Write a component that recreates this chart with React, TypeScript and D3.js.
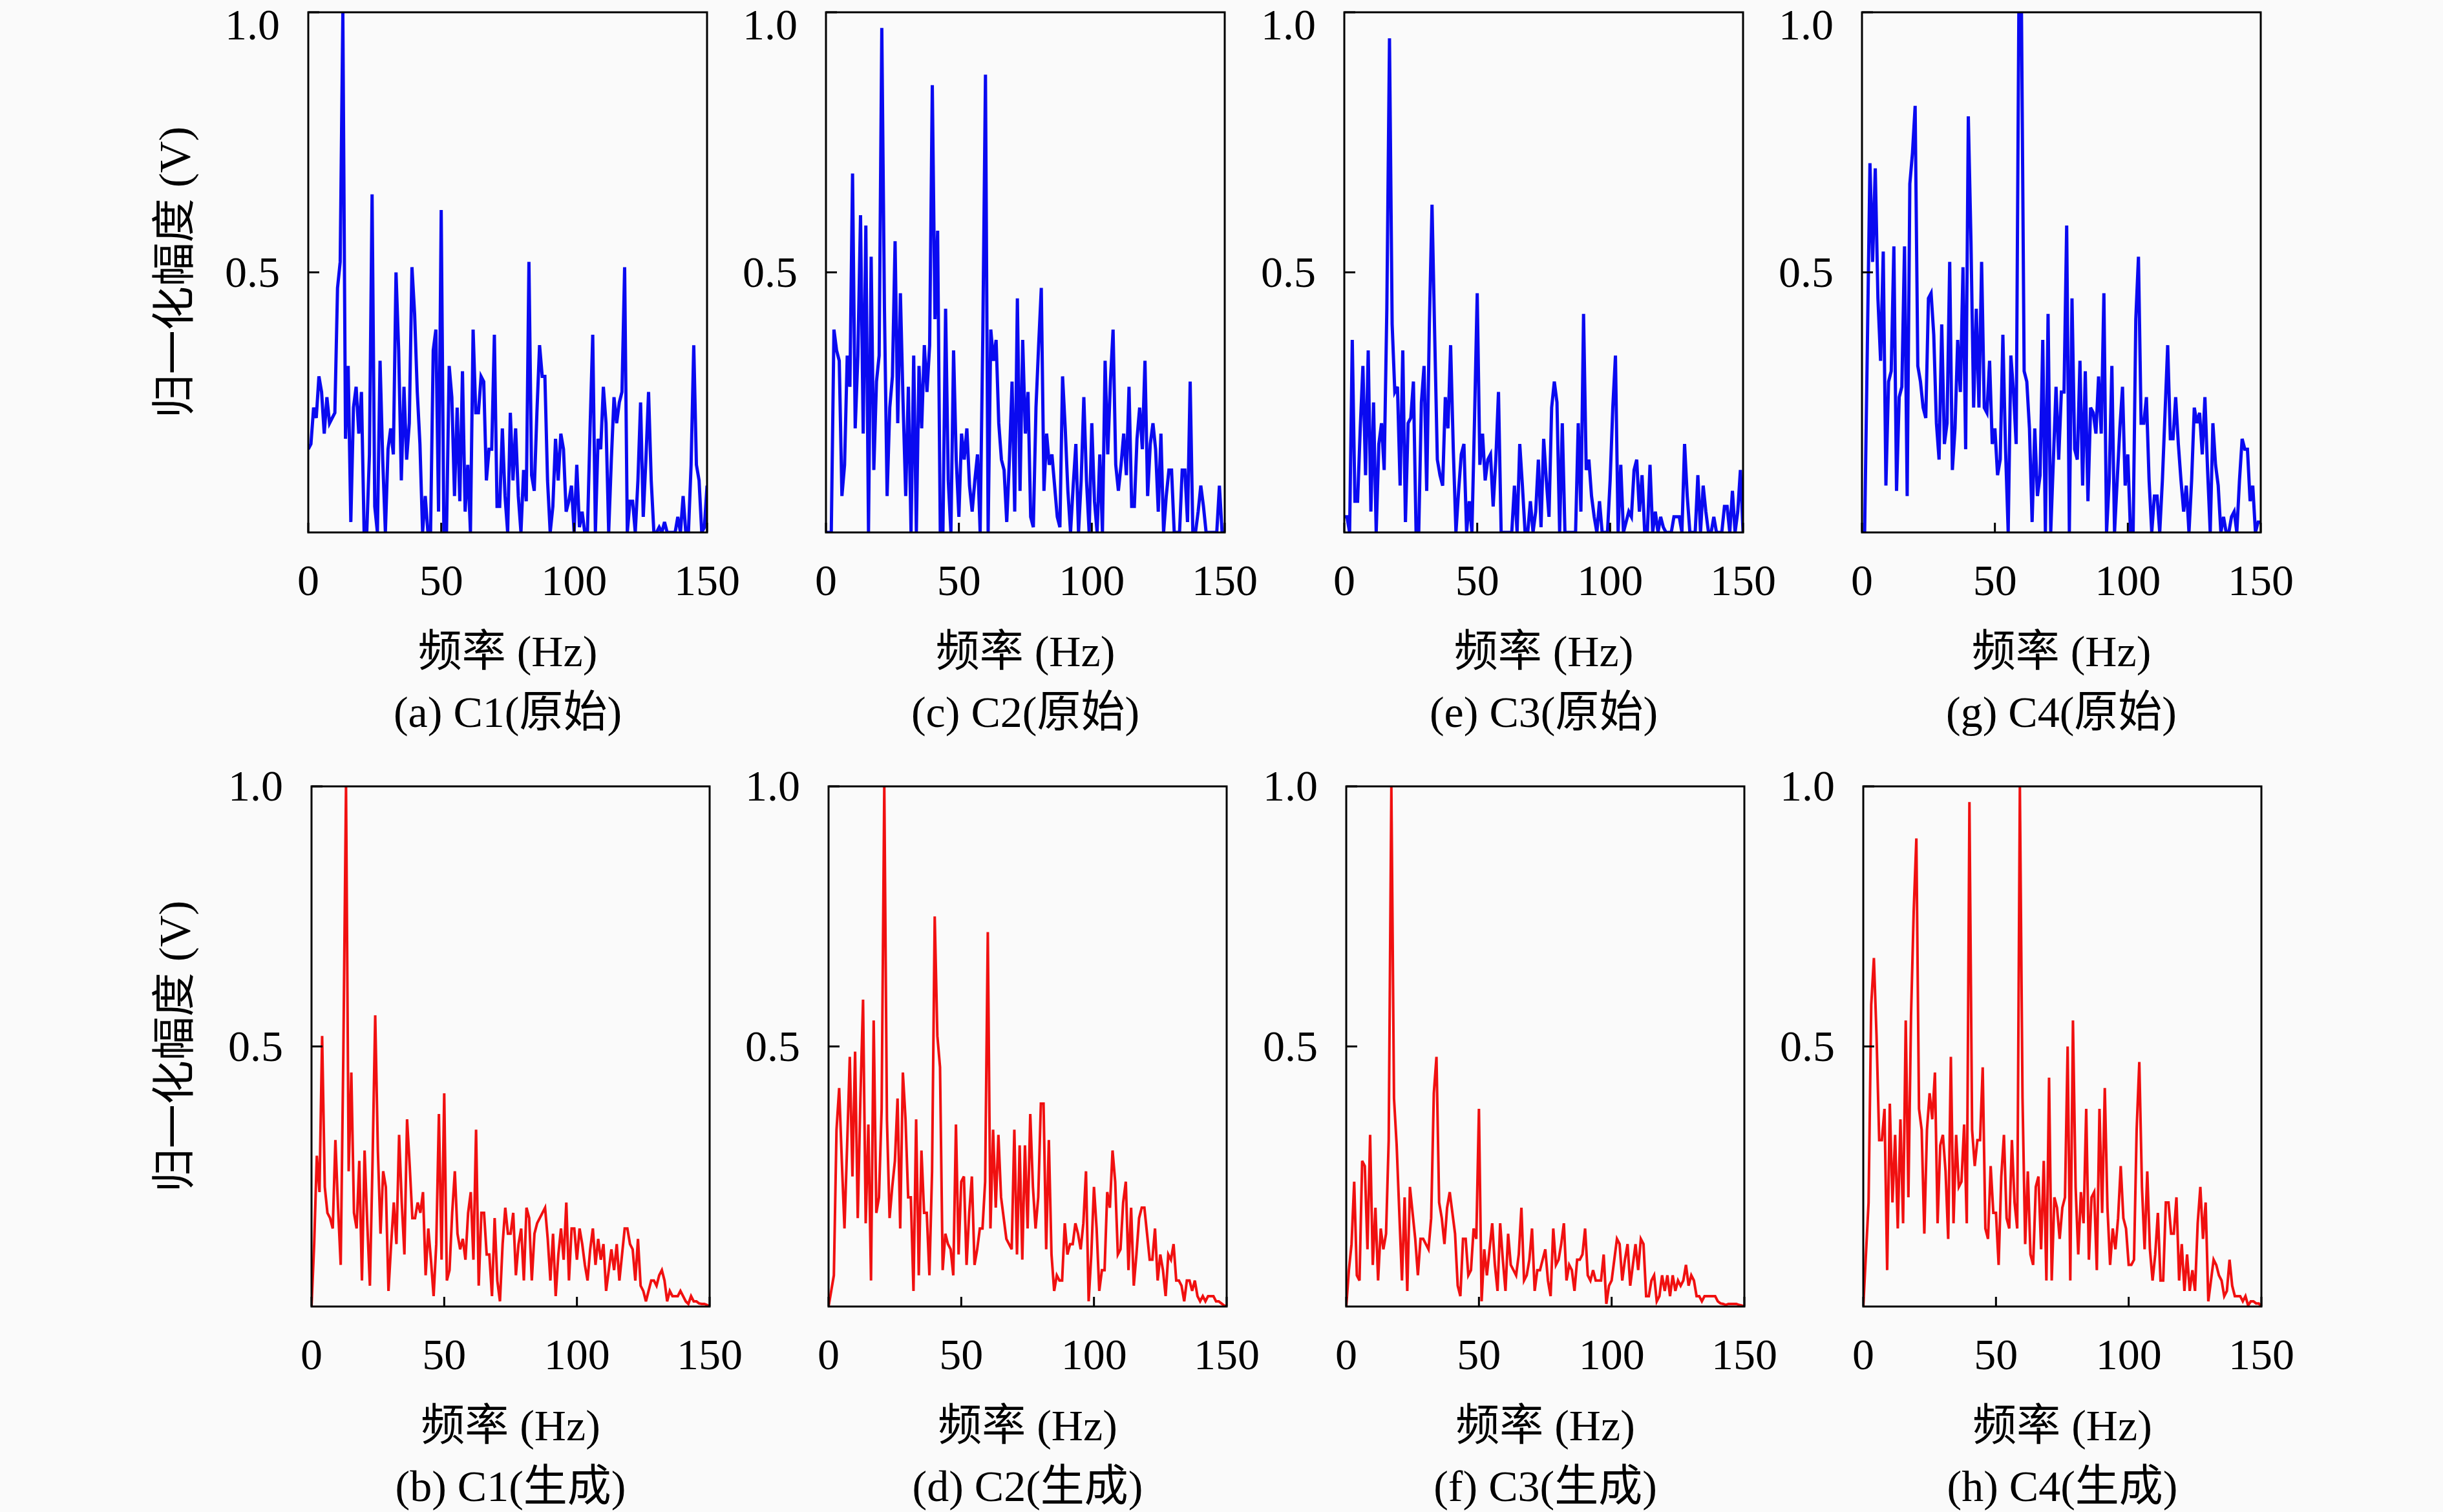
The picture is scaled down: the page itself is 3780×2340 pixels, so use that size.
import React, { useEffect } from 'react';
import * as d3 from 'd3';

// normalised spectra, one value per Hz, 0..150 Hz
const c1Raw = [
  0.16, 0.17, 0.24, 0.22, 0.3, 0.27, 0.19, 0.26, 0.21, 0.22,
  0.23, 0.47, 0.52, 1.0, 0.18, 0.32, 0.02, 0.24, 0.28, 0.19,
  0.27, 0, 0, 0.15, 0.65, 0.05, 0, 0.33, 0.14, 0,
  0.16, 0.2, 0.15, 0.5, 0.35, 0.1, 0.28, 0.14, 0.21, 0.51,
  0.42, 0.27, 0.17, 0, 0.07, 0, 0, 0.35, 0.39, 0.04,
  0.62, 0, 0, 0.32, 0.26, 0.07, 0.24, 0.06, 0.31, 0.04,
  0.13, 0, 0.39, 0.23, 0.23, 0.3, 0.29, 0.1, 0.16, 0.16,
  0.38, 0.05, 0.05, 0.2, 0.07, 0, 0.23, 0.1, 0.2, 0.07,
  0, 0.12, 0.06, 0.52, 0.11, 0.08, 0.23, 0.36, 0.3, 0.3,
  0.1, 0, 0.05, 0.18, 0.1, 0.19, 0.16, 0.04, 0.06, 0.09,
  0, 0.13, 0.01, 0.04, 0, 0, 0.2, 0.38, 0, 0.18,
  0.16, 0.28, 0.21, 0, 0.14, 0.26, 0.21, 0.25, 0.27, 0.51,
  0, 0.06, 0.06, 0, 0.1, 0.25, 0.03, 0.14, 0.27, 0.1,
  0, 0, 0.01, 0, 0.02, 0, 0, 0, 0, 0.03,
  0, 0.07, 0, 0, 0.13, 0.36, 0.13, 0.1, 0, 0.01,
  0.09,
];

const c2Raw = [
  0, 0, 0, 0.39, 0.35, 0.33, 0.07, 0.13, 0.34, 0.28,
  0.69, 0.2, 0.34, 0.61, 0.19, 0.59, 0, 0.53, 0.12, 0.29,
  0.34, 0.97, 0.43, 0.07, 0.24, 0.3, 0.56, 0.21, 0.46, 0.25,
  0.07, 0.28, 0, 0.34, 0, 0.32, 0.2, 0.36, 0.27, 0.36,
  0.86, 0.41, 0.58, 0, 0, 0.43, 0.1, 0, 0.35, 0.14,
  0.03, 0.19, 0.14, 0.2, 0.09, 0.04, 0.1, 0.15, 0, 0.38,
  0.88, 0, 0.39, 0.33, 0.37, 0.21, 0.14, 0.12, 0.02, 0.14,
  0.29, 0.04, 0.45, 0.08, 0.37, 0.19, 0.27, 0.03, 0.01, 0.24,
  0.36, 0.47, 0.08, 0.19, 0.13, 0.15, 0.09, 0.03, 0.01, 0.3,
  0.2, 0.08, 0, 0.09, 0.17, 0, 0.1, 0.26, 0.1, 0,
  0.21, 0.06, 0, 0.15, 0, 0.33, 0.15, 0.29, 0.39, 0.13,
  0.08, 0.13, 0.19, 0.11, 0.28, 0.05, 0.05, 0.18, 0.24, 0.16,
  0.33, 0.07, 0.17, 0.21, 0.16, 0.04, 0.19, 0, 0.07, 0.12,
  0.12, 0, 0, 0, 0.12, 0.12, 0.02, 0.29, 0, 0,
  0.04, 0.09, 0.05, 0, 0, 0, 0, 0, 0.09, 0,
  0,
];

const c3Raw = [
  0.03, 0.03, 0, 0.37, 0.06, 0.06, 0.2, 0.32, 0.11, 0.35,
  0.04, 0.25, 0, 0.17, 0.21, 0.12, 0.43, 0.95, 0.4, 0.27,
  0.28, 0.09, 0.35, 0.02, 0.21, 0.22, 0.29, 0, 0, 0.25,
  0.32, 0.08, 0.4, 0.63, 0.38, 0.14, 0.11, 0.09, 0.26, 0.2,
  0.36, 0.16, 0, 0.08, 0.15, 0.17, 0, 0.06, 0, 0.22,
  0.46, 0.13, 0.19, 0.1, 0.14, 0.15, 0.05, 0.14, 0.27, 0,
  0, 0, 0, 0, 0.09, 0, 0.17, 0.09, 0, 0,
  0.06, 0, 0.04, 0.14, 0.01, 0.18, 0.1, 0.03, 0.24, 0.29,
  0.25, 0, 0.21, 0, 0, 0, 0, 0, 0.21, 0.04,
  0.42, 0.12, 0.14, 0.07, 0.03, 0, 0.06, 0, 0, 0,
  0.1, 0.24, 0.34, 0, 0.13, 0, 0.02, 0.04, 0.03, 0.12,
  0.14, 0.04, 0.11, 0, 0, 0.13, 0, 0.04, 0, 0.03,
  0.01, 0, 0, 0, 0.03, 0.03, 0.03, 0, 0.17, 0.07,
  0, 0, 0, 0.11, 0, 0.09, 0.04, 0, 0, 0.03,
  0, 0, 0, 0.05, 0.05, 0, 0.08, 0, 0.04, 0.12,
  0,
];

const c4Raw = [
  0, 0, 0.35, 0.71, 0.52, 0.7, 0.45, 0.33, 0.54, 0.09,
  0.29, 0.31, 0.55, 0.08, 0.26, 0.28, 0.55, 0.07, 0.67, 0.73,
  0.82, 0.32, 0.29, 0.24, 0.22, 0.45, 0.46, 0.38, 0.21, 0.14,
  0.4, 0.17, 0.21, 0.52, 0.12, 0.2, 0.37, 0.27, 0.51, 0.16,
  0.8, 0.56, 0.24, 0.43, 0.24, 0.52, 0.24, 0.23, 0.33, 0.17,
  0.2, 0.11, 0.14, 0.38, 0.16, 0, 0.34, 0.27, 0.17, 1.0,
  1.0, 0.31, 0.29, 0.2, 0.02, 0.2, 0.07, 0.11, 0.37, 0,
  0.42, 0, 0.14, 0.28, 0.14, 0.27, 0.27, 0.59, 0, 0.45,
  0.16, 0.14, 0.33, 0.09, 0.31, 0.06, 0.24, 0.23, 0.19, 0.3,
  0.19, 0.46, 0, 0.1, 0.32, 0, 0.1, 0.2, 0.28, 0.09,
  0.15, 0, 0, 0.41, 0.53, 0.21, 0.21, 0.26, 0.1, 0,
  0.07, 0.07, 0, 0.1, 0.23, 0.36, 0.18, 0.18, 0.26, 0.17,
  0.1, 0.04, 0.09, 0, 0.1, 0.24, 0.21, 0.23, 0.15, 0.26,
  0.12, 0, 0.21, 0.13, 0.09, 0, 0.03, 0, 0, 0.03,
  0.04, 0, 0.1, 0.18, 0.16, 0.16, 0.06, 0.09, 0, 0.02,
  0.02,
];

const c1Gen = [
  0, 0.12, 0.29, 0.22, 0.52, 0.23, 0.18, 0.17, 0.15, 0.32,
  0.19, 0.08, 0.49, 1.0, 0.26, 0.45, 0.18, 0.15, 0.28, 0.05,
  0.3, 0.16, 0.04, 0.28, 0.56, 0.3, 0.14, 0.26, 0.23, 0.03,
  0.12, 0.2, 0.12, 0.33, 0.2, 0.1, 0.36, 0.27, 0.17, 0.17,
  0.2, 0.18, 0.22, 0.06, 0.15, 0.09, 0.02, 0.12, 0.37, 0.09,
  0.41, 0.05, 0.07, 0.18, 0.26, 0.14, 0.11, 0.13, 0.09, 0.18,
  0.22, 0.09, 0.34, 0.04, 0.18, 0.18, 0.1, 0.1, 0.02, 0.17,
  0.05, 0.01, 0.12, 0.19, 0.14, 0.14, 0.18, 0.06, 0.12, 0.15,
  0.05, 0.19, 0.17, 0.05, 0.14, 0.16, 0.17, 0.18, 0.19, 0.13,
  0.05, 0.14, 0.02, 0.1, 0.15, 0.09, 0.2, 0.05, 0.15, 0.15,
  0.09, 0.15, 0.12, 0.08, 0.05, 0.11, 0.15, 0.08, 0.13, 0.09,
  0.12, 0.03, 0.07, 0.11, 0.07, 0.12, 0.05, 0.1, 0.15, 0.15,
  0.12, 0.11, 0.05, 0.13, 0.04, 0.03, 0.01, 0.03, 0.05, 0.05,
  0.04, 0.06, 0.07, 0.05, 0.01, 0.03, 0.02, 0.02, 0.02, 0.03,
  0.02, 0.01, 0.005, 0.02, 0.01, 0.01, 0.006, 0.005, 0.005, 0.003,
  0,
];

const c2Gen = [
  0, 0.03, 0.06, 0.34, 0.42, 0.28, 0.15, 0.31, 0.48, 0.25,
  0.49, 0.17, 0.4, 0.59, 0.16, 0.35, 0.05, 0.55, 0.18, 0.21,
  0.38, 1.0, 0.36, 0.17, 0.23, 0.28, 0.4, 0.15, 0.45, 0.36,
  0.21, 0.21, 0.03, 0.36, 0.06, 0.3, 0.18, 0.18, 0.06, 0.26,
  0.75, 0.52, 0.46, 0.07, 0.14, 0.12, 0.11, 0.06, 0.35, 0.1,
  0.24, 0.25, 0.08, 0.18, 0.25, 0.08, 0.11, 0.15, 0.15, 0.24,
  0.72, 0.15, 0.34, 0.19, 0.33, 0.21, 0.17, 0.13, 0.12, 0.11,
  0.34, 0.1, 0.31, 0.09, 0.31, 0.15, 0.37, 0.23, 0.15, 0.21,
  0.39, 0.39, 0.11, 0.32, 0.1, 0.03, 0.06, 0.05, 0.05, 0.16,
  0.1, 0.12, 0.12, 0.16, 0.14, 0.11, 0.16, 0.26, 0.01, 0.1,
  0.23, 0.15, 0.03, 0.07, 0.07, 0.22, 0.19, 0.3, 0.24, 0.1,
  0.11, 0.2, 0.24, 0.07, 0.19, 0.04, 0.1, 0.17, 0.19, 0.19,
  0.14, 0.09, 0.09, 0.15, 0.05, 0.1, 0.07, 0.02, 0.1, 0.09,
  0.12, 0.05, 0.05, 0.04, 0.01, 0.05, 0.05, 0.03, 0.05, 0.02,
  0.01, 0.02, 0.01, 0.02, 0.02, 0.02, 0.01, 0.01, 0.006, 0.002,
  0,
];

const c3Gen = [
  0, 0.07, 0.12, 0.24, 0.06, 0.05, 0.28, 0.27, 0.11, 0.33,
  0.08, 0.19, 0.05, 0.15, 0.11, 0.14, 0.32, 1.0, 0.4, 0.31,
  0.18, 0.05, 0.21, 0.03, 0.23, 0.18, 0.13, 0.06, 0.13, 0.13,
  0.12, 0.11, 0.17, 0.41, 0.48, 0.2, 0.17, 0.12, 0.19, 0.22,
  0.18, 0.14, 0.04, 0.02, 0.13, 0.13, 0.06, 0.07, 0.15, 0.13,
  0.38, 0.01, 0.11, 0.06, 0.11, 0.16, 0.08, 0.03, 0.16, 0.09,
  0.03, 0.14, 0.08, 0.07, 0.06, 0.1, 0.19, 0.05, 0.06, 0.09,
  0.15, 0.03, 0.07, 0.07, 0.09, 0.11, 0.05, 0.02, 0.15, 0.08,
  0.09, 0.12, 0.16, 0.05, 0.08, 0.07, 0.03, 0.09, 0.09, 0.1,
  0.15, 0.06, 0.05, 0.07, 0.05, 0.05, 0.05, 0.1, 0.005, 0.04,
  0.05, 0.09, 0.13, 0.12, 0.05, 0.09, 0.12, 0.04, 0.08, 0.12,
  0.07, 0.13, 0.12, 0.02, 0.02, 0.05, 0.06, 0.01, 0.02, 0.06,
  0.03, 0.06, 0.02, 0.06, 0.03, 0.05, 0.04, 0.05, 0.08, 0.04,
  0.06, 0.05, 0.02, 0.02, 0.01, 0.02, 0.02, 0.02, 0.02, 0.02,
  0.01, 0.006, 0.005, 0.003, 0.005, 0.005, 0.005, 0.005, 0.003, 0.002,
  0,
];

const c4Gen = [
  0, 0.1, 0.2, 0.58, 0.67, 0.52, 0.32, 0.32, 0.38, 0.07,
  0.39, 0.2, 0.33, 0.15, 0.36, 0.16, 0.55, 0.21, 0.56, 0.76,
  0.9, 0.38, 0.34, 0.14, 0.34, 0.41, 0.36, 0.45, 0.16, 0.31,
  0.33, 0.26, 0.13, 0.48, 0.16, 0.33, 0.23, 0.24, 0.35, 0.16,
  0.97, 0.34, 0.27, 0.32, 0.32, 0.46, 0.15, 0.13, 0.27, 0.18,
  0.18, 0.08, 0.25, 0.33, 0.17, 0.15, 0.32, 0.2, 0.15, 1.0,
  0.4, 0.12, 0.26, 0.1, 0.08, 0.23, 0.25, 0.11, 0.28, 0.05,
  0.44, 0.05, 0.21, 0.19, 0.13, 0.19, 0.21, 0.5, 0.05, 0.55,
  0.23, 0.1, 0.22, 0.16, 0.38, 0.09, 0.21, 0.22, 0.07, 0.38,
  0.18, 0.42, 0.19, 0.08, 0.15, 0.11, 0.17, 0.27, 0.17, 0.15,
  0.08, 0.08, 0.09, 0.34, 0.47, 0.23, 0.11, 0.26, 0.11, 0.05,
  0.1, 0.18, 0.05, 0.05, 0.2, 0.2, 0.14, 0.14, 0.21, 0.05,
  0.12, 0.03, 0.1, 0.03, 0.07, 0.03, 0.16, 0.23, 0.13, 0.2,
  0.01, 0.05, 0.09, 0.08, 0.06, 0.05, 0.02, 0.03, 0.09, 0.04,
  0.02, 0.02, 0.02, 0.01, 0.02, 0.002, 0.01, 0.01, 0.006, 0.006,
  0,
];

const xTicks = [0, 50, 100, 150];
const yTicks = [0.5, 1.0];
const yTickLabels = ['0.5', '1.0'];
const xLabel = '频率 (Hz)';
const yLabel = '归一化幅度 (V)';
const rawCaptions = ['(a) C1(原始)', '(c) C2(原始)', '(e) C3(原始)', '(g) C4(原始)'];
const genCaptions = ['(b) C1(生成)', '(d) C2(生成)', '(f) C3(生成)', '(h) C4(生成)'];

const W = 3780;
const H = 2340;
const FONT = "'Liberation Serif', 'Noto Sans CJK SC', serif";
const FS = 68;

type PanelProps = {
  id: string;
  data: number[];
  color: string;
  lineWidth: number;
  caption: string;
  left: number;
  top: number;
  width: number;
  height: number;
  showYLabel: boolean;
};

const Panel: React.FC<PanelProps> = ({ id, data, color, lineWidth, caption, left, top, width, height, showYLabel }) => {
  const x = d3.scaleLinear().domain([0, 150]).range([left, left + width]);
  const y = d3.scaleLinear().domain([0, 1]).range([top + height, top]);
  const line = d3
    .line<number>()
    .x((_, i) => x(i))
    .y((d) => y(d));
  const bottom = top + height;
  // digits sit on the baseline; keep the top label inside the page
  const tickBaseline = (v: number) => Math.max(y(v) + FS * 0.33, FS * 0.9);

  return (
    <g>
      <defs>
        <clipPath id={`clip-${id}`}>
          <rect x={left} y={top} width={width} height={height} />
        </clipPath>
      </defs>
      <path
        d={line(data) || ''}
        fill="none"
        stroke={color}
        strokeWidth={lineWidth}
        strokeLinejoin="miter"
        clipPath={`url(#clip-${id})`}
      />
      <rect x={left} y={top} width={width} height={height} fill="none" stroke="#000" strokeWidth={3} />
      {xTicks.map((t) => (
        <g key={`x${t}`}>
          <line x1={x(t)} x2={x(t)} y1={bottom} y2={bottom - 15} stroke="#000" strokeWidth={3} />
          <text x={x(t)} y={bottom + 75 + FS * 0.33} textAnchor="middle">
            {t}
          </text>
        </g>
      ))}
      {yTicks.map((t, i) => (
        <g key={`y${t}`}>
          <line x1={left} x2={left + 17} y1={y(t)} y2={y(t)} stroke="#000" strokeWidth={3} />
          <text x={left - 44} y={tickBaseline(t)} textAnchor="end">
            {yTickLabels[i]}
          </text>
        </g>
      ))}
      <text x={left + width / 2} y={bottom + 184} textAnchor="middle" dominantBaseline="central">
        {xLabel}
      </text>
      <text x={left + width / 2} y={bottom + 278} textAnchor="middle" dominantBaseline="central">
        {caption}
      </text>
      {showYLabel && (
        <text
          transform={`translate(270, ${top + height / 2}) rotate(-90)`}
          textAnchor="middle"
          dominantBaseline="central"
        >
          {yLabel}
        </text>
      )}
    </g>
  );
};

const rawSeries = [c1Raw, c2Raw, c3Raw, c4Raw];
const genSeries = [c1Gen, c2Gen, c3Gen, c4Gen];

export default function App() {
  useEffect(() => {
    document.body.style.margin = '0';
    document.body.style.overflow = 'hidden';
  }, []);

  const topLefts = [477, 1278, 2080, 2881];
  const bottomLefts = [482, 1282, 2083, 2883];

  return (
    <svg width={W} height={H} style={{ display: 'block' }} fontFamily={FONT} fontSize={FS} fill="#000">
      <rect x={0} y={0} width={W} height={H} fill="#fafafa" />
      {rawSeries.map((d, i) => (
        <Panel
          key={`raw${i}`}
          id={`raw${i}`}
          data={d}
          color="#0a0af0"
          lineWidth={5}
          caption={rawCaptions[i]}
          left={topLefts[i]}
          top={19}
          width={617}
          height={805}
          showYLabel={i === 0}
        />
      ))}
      {genSeries.map((d, i) => (
        <Panel
          key={`gen${i}`}
          id={`gen${i}`}
          data={d}
          color="#f01010"
          lineWidth={4}
          caption={genCaptions[i]}
          left={bottomLefts[i]}
          top={1217}
          width={616}
          height={805}
          showYLabel={i === 0}
        />
      ))}
    </svg>
  );
}
